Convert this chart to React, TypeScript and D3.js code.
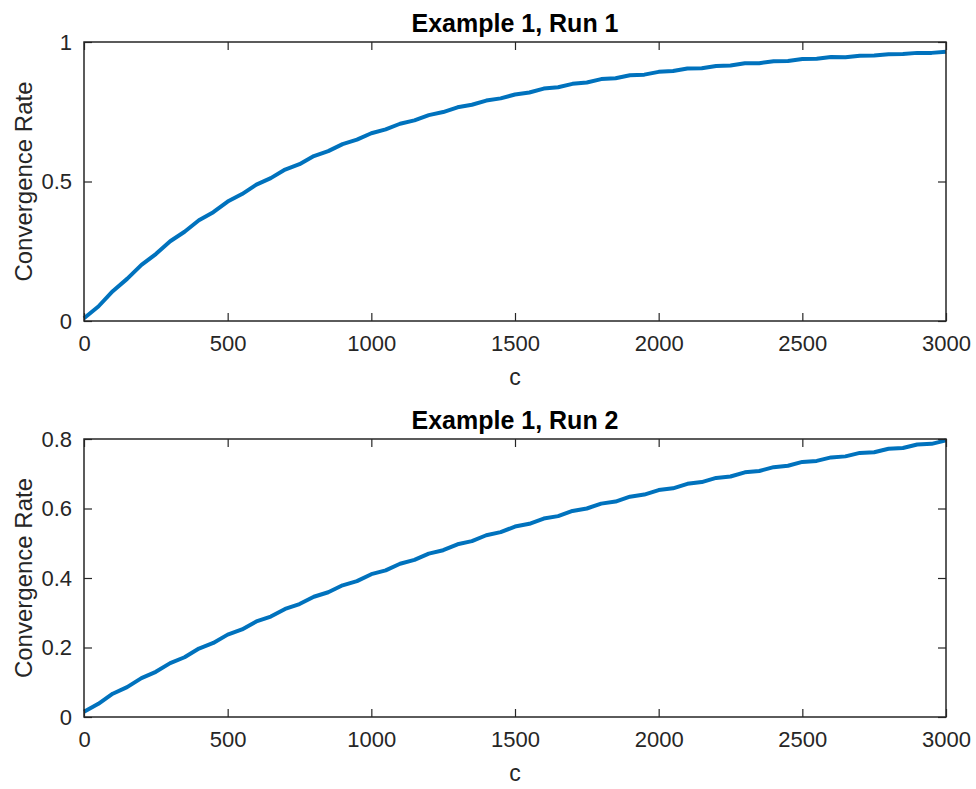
import { useRef, useEffect } from "react";
import * as d3 from "d3";

const cValues = [
  0, 50, 100, 150, 200, 250, 300, 350, 400, 450, 500, 550, 600, 650, 700, 750, 800, 850, 900, 950,
  1000, 1050, 1100, 1150, 1200, 1250, 1300, 1350, 1400, 1450, 1500, 1550, 1600, 1650, 1700, 1750,
  1800, 1850, 1900, 1950, 2000, 2050, 2100, 2150, 2200, 2250, 2300, 2350, 2400, 2450, 2500, 2550,
  2600, 2650, 2700, 2750, 2800, 2850, 2900, 2950, 3000,
];

const run1Rate = [
  0.01, 0.052, 0.107, 0.151, 0.201, 0.24, 0.286, 0.32, 0.361, 0.39, 0.428, 0.455, 0.489, 0.512,
  0.543, 0.562, 0.591, 0.609, 0.634, 0.65, 0.673, 0.687, 0.707, 0.719, 0.738, 0.749, 0.766, 0.775,
  0.79, 0.798, 0.812, 0.819, 0.833, 0.838, 0.85, 0.855, 0.867, 0.87, 0.881, 0.883, 0.893, 0.896,
  0.905, 0.906, 0.914, 0.916, 0.924, 0.924, 0.931, 0.932, 0.939, 0.94, 0.946, 0.945, 0.951, 0.952,
  0.956, 0.957, 0.961, 0.961, 0.965,
];

const run2Rate = [
  0.015, 0.038, 0.067, 0.086, 0.112, 0.13, 0.155, 0.172, 0.197, 0.213, 0.237, 0.252, 0.275, 0.289,
  0.311, 0.325, 0.346, 0.359, 0.379, 0.391, 0.411, 0.422, 0.441, 0.452, 0.47, 0.48, 0.497, 0.506,
  0.523, 0.532, 0.548, 0.556, 0.571, 0.578, 0.593, 0.6, 0.614, 0.62, 0.634, 0.64, 0.653, 0.658,
  0.671, 0.676, 0.688, 0.692, 0.704, 0.708, 0.719, 0.723, 0.734, 0.737, 0.747, 0.75, 0.76, 0.762,
  0.772, 0.774, 0.784, 0.786, 0.796,
];

const xTicks = [0, 500, 1000, 1500, 2000, 2500, 3000];
const yTicks1 = [0, 0.5, 1];
const yTicks2 = [0, 0.2, 0.4, 0.6, 0.8];

const panels = [
  { title: "Example 1, Run 1", values: run1Rate, yMax: 1, yTicks: yTicks1, top: 42, bottom: 321 },
  { title: "Example 1, Run 2", values: run2Rate, yMax: 0.8, yTicks: yTicks2, top: 439, bottom: 717 },
];

const AXIS = "#262626";
const FONT = "'Liberation Sans', Arial, Helvetica, sans-serif";

export default function App() {
  const svgRef = useRef<SVGSVGElement>(null);

  useEffect(() => {
    if (!svgRef.current) return;
    const svg = d3.select(svgRef.current);
    svg.selectAll("*").remove();

    const left = 84;
    const right = 946;

    panels.forEach((p) => {
      const x = d3.scaleLinear().domain([0, 3000]).range([left, right]);
      const y = d3.scaleLinear().domain([0, p.yMax]).range([p.bottom, p.top]);
      const g = svg.append("g");

      // line
      const line = d3
        .line<number>()
        .x((_, i) => x(cValues[i]))
        .y((d) => y(d));
      g.append("path")
        .datum(p.values)
        .attr("d", line)
        .attr("fill", "none")
        .attr("stroke", "#0072BD")
        .attr("stroke-width", 4)
        .attr("stroke-linejoin", "round");

      const styleAxis = (sel: d3.Selection<SVGGElement, unknown, null, undefined>) => {
        sel.select(".domain").remove();
        sel.selectAll(".tick line").attr("stroke", AXIS).attr("stroke-width", 1.2);
        sel
          .selectAll(".tick text")
          .attr("fill", AXIS)
          .attr("font-size", "22px")
          .attr("font-family", FONT);
      };

      // bottom axis
      g.append("g")
        .attr("transform", `translate(0,${p.bottom})`)
        .call(
          d3
            .axisBottom(x)
            .tickValues(xTicks)
            .tickSizeInner(-8)
            .tickSizeOuter(0)
            .tickPadding(14)
            .tickFormat(d3.format("d"))
        )
        .call(styleAxis);
      // top axis (ticks only)
      g.append("g")
        .attr("transform", `translate(0,${p.top})`)
        .call(d3.axisTop(x).tickValues(xTicks).tickSizeInner(-8).tickSizeOuter(0).tickFormat(() => ""))
        .call(styleAxis);
      // left axis
      g.append("g")
        .attr("transform", `translate(${left},0)`)
        .call(
          d3
            .axisLeft(y)
            .tickValues(p.yTicks)
            .tickSizeInner(-8)
            .tickSizeOuter(0)
            .tickPadding(12)
            .tickFormat((d) => d3.format("~g")(d as number))
        )
        .call(styleAxis);
      // right axis
      g.append("g")
        .attr("transform", `translate(${right},0)`)
        .call(d3.axisRight(y).tickValues(p.yTicks).tickSizeInner(-8).tickSizeOuter(0).tickFormat(() => ""))
        .call(styleAxis);

      // frame
      g.append("rect")
        .attr("x", left)
        .attr("y", p.top)
        .attr("width", right - left)
        .attr("height", p.bottom - p.top)
        .attr("fill", "none")
        .attr("stroke", AXIS)
        .attr("stroke-width", 1.5);

      // title
      g.append("text")
        .attr("x", (left + right) / 2)
        .attr("y", p.top - 10)
        .attr("text-anchor", "middle")
        .attr("font-family", FONT)
        .attr("font-size", "25px")
        .attr("font-weight", "bold")
        .attr("fill", "#000")
        .text(p.title);

      // x label
      g.append("text")
        .attr("x", (left + right) / 2)
        .attr("y", p.bottom + 64)
        .attr("text-anchor", "middle")
        .attr("font-family", FONT)
        .attr("font-size", "23px")
        .attr("fill", AXIS)
        .text("c");

      // y label
      g.append("text")
        .attr("transform", `translate(32,${(p.top + p.bottom) / 2}) rotate(-90)`)
        .attr("text-anchor", "middle")
        .attr("font-family", FONT)
        .attr("font-size", "24px")
        .attr("fill", AXIS)
        .text("Convergence Rate");
    });
  }, []);

  return (
    <svg
      ref={svgRef}
      width={976}
      height={789}
      style={{ position: "absolute", left: 0, top: 0, background: "#fff" }}
    />
  );
}
